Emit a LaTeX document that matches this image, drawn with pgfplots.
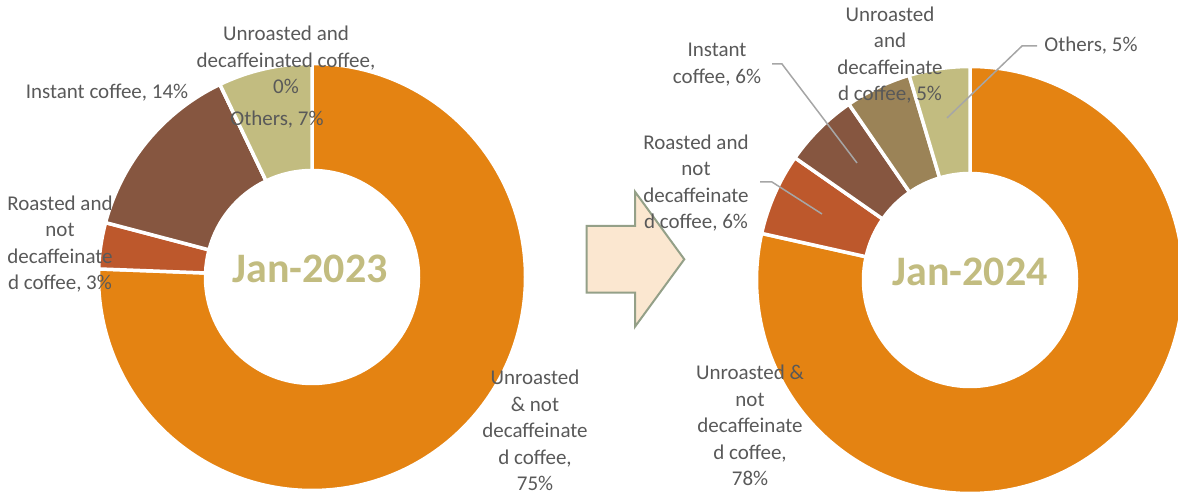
\documentclass[border=0pt]{standalone}
\usepackage{pgfplots}
\pgfplotsset{compat=1.18}
\usepackage{pgfplotstable}
\usepackage{fontspec}
\setmainfont{Carlito}
\usetikzlibrary{calc}

\definecolor{orng}{HTML}{E48312}
\definecolor{rust}{HTML}{BD582C}
\definecolor{brwn}{HTML}{865640}
\definecolor{tanc}{HTML}{9B8357}
\definecolor{olive}{HTML}{C2BC80}
\definecolor{lblgray}{HTML}{595959}
\definecolor{leader}{HTML}{A6A6A6}
\definecolor{arrowfill}{HTML}{FBE7D0}
\definecolor{arrowline}{HTML}{94A088}

% shares in percent, clockwise from 12 o'clock
\pgfplotstableread{
value color
75.6 orng
3.5  rust
13.8 brwn
0.0  tanc
7.1  olive
}\janA
\pgfplotstableread{
value color
78.5 orng
6.2  rust
5.7  brwn
5.0  tanc
4.6  olive
}\janB

% one donut wedge: cx, cy, start angle, end angle, colour
\newcommand\slice[5]{%
  \fill[#5,draw=white,line width=3.5pt,line join=round]
    ([shift={(#3:213.5pt)}]axis cs:#1,#2)
    arc[start angle=#3,end angle=#4,radius=213.5pt]
    -- ([shift={(#4:106.5pt)}]axis cs:#1,#2)
    arc[start angle=#4,end angle=#3,radius=106.5pt] -- cycle;}

% turn a table into a list of \slice calls with plain numbers
\newcommand\builddonut[4]{%
  \gdef#4{}%
  \gdef\cumv{0}%
  \pgfplotstablegetrowsof{#1}%
  \pgfmathtruncatemacro\lastrow{\pgfplotsretval-1}%
  \foreach \i in {0,...,\lastrow}{%
    \pgfplotstablegetelem{\i}{value}\of{#1}\let\slval\pgfplotsretval
    \pgfplotstablegetelem{\i}{color}\of{#1}\let\slcol\pgfplotsretval
    \pgfmathsetmacro\sa{90-3.6*\cumv}%
    \pgfmathsetmacro\ea{90-3.6*(\cumv+\slval)}%
    \pgfmathsetmacro\nc{\cumv+\slval}%
    \xdef\cumv{\nc}%
    \xdef#4{\unexpanded\expandafter{#4}\noexpand\slice{#2}{#3}{\sa}{\ea}{\slcol}}%
  }%
}

\tikzset{lbl/.style={align=center,text=lblgray,inner sep=0pt,
  font=\fontsize{21}{26.5}\selectfont}}

\begin{document}
\begin{tikzpicture}
\builddonut{\janA}{312}{217}{\donutA}
\builddonut{\janB}{970}{214}{\donutB}
\begin{axis}[name=main,x=1pt,y=1pt,xmin=0,xmax=1178,ymin=0,ymax=494,
  hide axis,clip=true]
% arrow between the two donuts
\draw[arrowline,fill=arrowfill,line width=2pt,line join=miter]
  (axis cs:586.7,268) -- (axis cs:635,268) -- (axis cs:635,302.3)
  -- (axis cs:684.3,234.7) -- (axis cs:635,167.3) -- (axis cs:635,201.3)
  -- (axis cs:586.7,201.3) -- cycle;
\donutA
\donutB
\node[anchor=base,text=olive,font=\fontsize{42}{50}\selectfont\bfseries]
  at (axis cs:310,211) {Jan-2023};
\node[anchor=base,text=olive,font=\fontsize{42}{50}\selectfont\bfseries]
  at (axis cs:970,208) {Jan-2024};
% leader lines
\draw[leader,line width=1.5pt] (axis cs:1037,448) -- (axis cs:1022,448) -- (axis cs:947,376);
\draw[leader,line width=1.5pt] (axis cs:772,430) -- (axis cs:782,430) -- (axis cs:857,331);
\draw[leader,line width=1.5pt] (axis cs:760,312) -- (axis cs:772,312) -- (axis cs:822,280);
% labels, left donut
\node[lbl] at (axis cs:286,434) {Unroasted and\\decaffeinated coffee,\\0\%};
\node[lbl] at (axis cs:277,374) {Others, 7\%};
\node[lbl] at (axis cs:107,401) {Instant coffee, 14\%};
\node[lbl] at (axis cs:60,250) {Roasted and\\not\\decaffeinate\\d coffee, 3\%};
\node[lbl] at (axis cs:535,63.5) {Unroasted\\\& not\\decaffeinate\\d coffee,\\75\%};
% labels, right donut
\node[lbl] at (axis cs:750,68.5) {Unroasted \&\\not\\decaffeinate\\d coffee,\\78\%};
\node[lbl] at (axis cs:696,311) {Roasted and\\not\\decaffeinate\\d coffee, 6\%};
\node[lbl] at (axis cs:717,429.5) {Instant\\coffee, 6\%};
\node[lbl] at (axis cs:890,439) {Unroasted\\and\\decaffeinate\\d coffee, 5\%};
\node[lbl] at (axis cs:1091,448) {Others, 5\%};
\end{axis}
\pgfresetboundingbox
\path[use as bounding box] (main.south west) rectangle (main.north east);
\end{tikzpicture}
\end{document}
